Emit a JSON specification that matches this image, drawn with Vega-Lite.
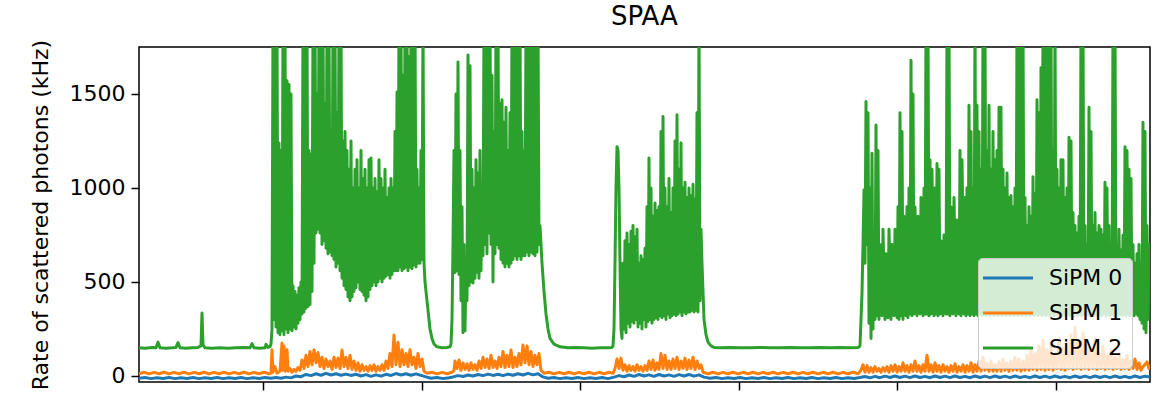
{
"$schema": "https://vega.github.io/schema/vega-lite/v6.json",
"width": 1011, "height": 335,
"autosize": {"type": "none"},
"padding": {"left": 139, "top": 47, "right": 15, "bottom": 20},
"title": {"text": "SPAA", "fontSize": 26, "fontWeight": "normal", "font": "DejaVu Sans", "color": "black", "offset": 9, "anchor": "middle"},
"config": {
  "font": "DejaVu Sans",
  "view": {"stroke": "black", "strokeWidth": 1.5},
  "axis": {"grid": false, "domain": false, "tickColor": "black", "tickWidth": 1.5, "tickSize": 8, "labelColor": "black", "labelFontSize": 22, "titleColor": "black", "titleFontSize": 22, "titleFontWeight": "normal"}
},
"datasets": {
"b": [{"x":139,"y":-12},{"x":145,"y":-8},{"x":151,"y":-14},{"x":157,"y":-9},{"x":163,"y":-13},{"x":169,"y":-8},{"x":175,"y":-14},{"x":181,"y":-9},{"x":187,"y":-13},{"x":193,"y":-8},{"x":199,"y":-14},{"x":205,"y":-9},{"x":211,"y":-13},{"x":217,"y":-8},{"x":223,"y":-14},{"x":229,"y":-9},{"x":235,"y":-13},{"x":241,"y":-8},{"x":247,"y":-14},{"x":253,"y":-9},{"x":259,"y":-13},{"x":265,"y":-8},{"x":271,"y":-12},{"x":276,"y":-8},{"x":281,"y":-12},{"x":286,"y":-6},{"x":291,"y":-10},{"x":296,"y":0},{"x":301,"y":-4},{"x":306,"y":8},{"x":311,"y":2},{"x":316,"y":12},{"x":321,"y":4},{"x":326,"y":14},{"x":331,"y":5},{"x":336,"y":12},{"x":341,"y":4},{"x":346,"y":10},{"x":351,"y":3},{"x":356,"y":9},{"x":361,"y":0},{"x":366,"y":7},{"x":371,"y":-2},{"x":376,"y":6},{"x":381,"y":-1},{"x":386,"y":9},{"x":391,"y":3},{"x":396,"y":13},{"x":401,"y":5},{"x":406,"y":12},{"x":411,"y":4},{"x":416,"y":11},{"x":421,"y":3},{"x":426,"y":-5},{"x":431,"y":-12},{"x":437,"y":-8},{"x":443,"y":-14},{"x":449,"y":-9},{"x":453,"y":-5},{"x":458,"y":2},{"x":463,"y":-3},{"x":468,"y":5},{"x":473,"y":0},{"x":478,"y":8},{"x":483,"y":2},{"x":488,"y":10},{"x":493,"y":3},{"x":498,"y":9},{"x":503,"y":2},{"x":508,"y":10},{"x":513,"y":4},{"x":518,"y":12},{"x":523,"y":5},{"x":528,"y":14},{"x":533,"y":6},{"x":538,"y":12},{"x":543,"y":-5},{"x":548,"y":-12},{"x":554,"y":-8},{"x":560,"y":-14},{"x":566,"y":-9},{"x":572,"y":-13},{"x":578,"y":-8},{"x":584,"y":-14},{"x":590,"y":-9},{"x":596,"y":-13},{"x":602,"y":-8},{"x":608,"y":-14},{"x":614,"y":-6},{"x":619,"y":2},{"x":624,"y":-4},{"x":629,"y":5},{"x":634,"y":-2},{"x":639,"y":8},{"x":644,"y":0},{"x":649,"y":6},{"x":654,"y":-2},{"x":659,"y":8},{"x":664,"y":0},{"x":669,"y":6},{"x":674,"y":-2},{"x":679,"y":7},{"x":684,"y":0},{"x":689,"y":8},{"x":694,"y":-1},{"x":699,"y":6},{"x":704,"y":-6},{"x":710,"y":-12},{"x":716,"y":-8},{"x":722,"y":-14},{"x":728,"y":-9},{"x":734,"y":-13},{"x":740,"y":-8},{"x":746,"y":-14},{"x":752,"y":-9},{"x":758,"y":-13},{"x":764,"y":-8},{"x":770,"y":-14},{"x":776,"y":-9},{"x":782,"y":-13},{"x":788,"y":-8},{"x":794,"y":-14},{"x":800,"y":-9},{"x":806,"y":-13},{"x":812,"y":-8},{"x":818,"y":-14},{"x":824,"y":-9},{"x":830,"y":-13},{"x":836,"y":-8},{"x":842,"y":-14},{"x":848,"y":-9},{"x":854,"y":-13},{"x":860,"y":-8},{"x":865,"y":-3},{"x":870,"y":-10},{"x":875,"y":-2},{"x":880,"y":-9},{"x":885,"y":-1},{"x":890,"y":-8},{"x":895,"y":0},{"x":900,"y":-8},{"x":905,"y":-1},{"x":910,"y":-9},{"x":915,"y":0},{"x":920,"y":-8},{"x":925,"y":-2},{"x":930,"y":-9},{"x":935,"y":0},{"x":940,"y":-8},{"x":945,"y":-1},{"x":950,"y":-9},{"x":955,"y":0},{"x":960,"y":-8},{"x":965,"y":-2},{"x":970,"y":-9},{"x":975,"y":0},{"x":980,"y":-8},{"x":985,"y":-1},{"x":990,"y":-9},{"x":995,"y":0},{"x":1000,"y":-8},{"x":1005,"y":-1},{"x":1010,"y":-9},{"x":1015,"y":0},{"x":1020,"y":-8},{"x":1025,"y":-2},{"x":1030,"y":-9},{"x":1035,"y":0},{"x":1040,"y":-8},{"x":1045,"y":-1},{"x":1050,"y":-9},{"x":1055,"y":0},{"x":1060,"y":-8},{"x":1065,"y":-2},{"x":1070,"y":-9},{"x":1075,"y":0},{"x":1080,"y":-8},{"x":1085,"y":-1},{"x":1090,"y":-9},{"x":1095,"y":0},{"x":1100,"y":-8},{"x":1105,"y":-1},{"x":1110,"y":-9},{"x":1115,"y":0},{"x":1120,"y":-8},{"x":1125,"y":-2},{"x":1130,"y":-9},{"x":1135,"y":0},{"x":1140,"y":-8},{"x":1145,"y":-1},{"x":1150,"y":-6}],
"o": [{"x":139,"y":12},{"x":144,"y":20},{"x":149,"y":11},{"x":154,"y":19},{"x":159,"y":12},{"x":164,"y":20},{"x":169,"y":11},{"x":174,"y":19},{"x":179,"y":12},{"x":184,"y":20},{"x":189,"y":11},{"x":194,"y":19},{"x":199,"y":12},{"x":204,"y":20},{"x":209,"y":11},{"x":214,"y":19},{"x":219,"y":12},{"x":224,"y":20},{"x":229,"y":11},{"x":234,"y":19},{"x":239,"y":12},{"x":244,"y":20},{"x":249,"y":11},{"x":254,"y":19},{"x":259,"y":12},{"x":264,"y":20},{"x":269,"y":12},{"x":271,"y":15},{"x":272,"y":140},{"x":273,"y":20},{"x":275,"y":50},{"x":277,"y":15},{"x":280,"y":25},{"x":282,"y":175},{"x":283,"y":30},{"x":284,"y":160},{"x":285,"y":25},{"x":287,"y":140},{"x":288,"y":25},{"x":290,"y":40},{"x":292,"y":20},{"x":294,"y":35},{"x":296,"y":25},{"x":298,"y":45},{"x":300,"y":30},{"x":302,"y":85},{"x":304,"y":40},{"x":306,"y":110},{"x":308,"y":50},{"x":310,"y":130},{"x":312,"y":60},{"x":314,"y":140},{"x":316,"y":70},{"x":318,"y":125},{"x":320,"y":50},{"x":322,"y":100},{"x":324,"y":40},{"x":326,"y":90},{"x":328,"y":50},{"x":330,"y":80},{"x":332,"y":35},{"x":334,"y":100},{"x":336,"y":45},{"x":338,"y":95},{"x":340,"y":40},{"x":342,"y":138},{"x":344,"y":50},{"x":346,"y":100},{"x":348,"y":40},{"x":350,"y":110},{"x":352,"y":35},{"x":354,"y":80},{"x":356,"y":30},{"x":358,"y":70},{"x":360,"y":25},{"x":362,"y":60},{"x":364,"y":30},{"x":366,"y":50},{"x":368,"y":25},{"x":370,"y":55},{"x":372,"y":30},{"x":374,"y":60},{"x":376,"y":25},{"x":378,"y":50},{"x":380,"y":30},{"x":382,"y":60},{"x":384,"y":30},{"x":386,"y":80},{"x":388,"y":40},{"x":390,"y":120},{"x":392,"y":50},{"x":394,"y":218},{"x":396,"y":60},{"x":398,"y":180},{"x":400,"y":50},{"x":402,"y":140},{"x":404,"y":60},{"x":406,"y":120},{"x":408,"y":50},{"x":410,"y":140},{"x":412,"y":60},{"x":414,"y":100},{"x":416,"y":40},{"x":418,"y":120},{"x":420,"y":50},{"x":422,"y":90},{"x":424,"y":25},{"x":427,"y":15},{"x":432,"y":20},{"x":437,"y":11},{"x":442,"y":19},{"x":447,"y":12},{"x":452,"y":20},{"x":454,"y":30},{"x":455,"y":80},{"x":457,"y":40},{"x":459,"y":85},{"x":461,"y":30},{"x":463,"y":70},{"x":465,"y":35},{"x":467,"y":65},{"x":469,"y":30},{"x":471,"y":70},{"x":473,"y":35},{"x":475,"y":60},{"x":477,"y":30},{"x":479,"y":80},{"x":481,"y":40},{"x":483,"y":100},{"x":485,"y":45},{"x":487,"y":90},{"x":489,"y":40},{"x":491,"y":110},{"x":493,"y":45},{"x":495,"y":80},{"x":497,"y":40},{"x":499,"y":100},{"x":501,"y":50},{"x":503,"y":130},{"x":505,"y":45},{"x":507,"y":110},{"x":509,"y":50},{"x":511,"y":138},{"x":513,"y":45},{"x":515,"y":100},{"x":517,"y":50},{"x":519,"y":120},{"x":521,"y":60},{"x":523,"y":165},{"x":525,"y":70},{"x":527,"y":160},{"x":529,"y":60},{"x":531,"y":130},{"x":533,"y":50},{"x":535,"y":110},{"x":537,"y":60},{"x":539,"y":120},{"x":541,"y":30},{"x":544,"y":15},{"x":549,"y":20},{"x":554,"y":11},{"x":559,"y":19},{"x":564,"y":12},{"x":569,"y":20},{"x":574,"y":11},{"x":579,"y":19},{"x":584,"y":12},{"x":589,"y":20},{"x":594,"y":11},{"x":599,"y":19},{"x":604,"y":12},{"x":609,"y":20},{"x":613,"y":14},{"x":615,"y":40},{"x":617,"y":90},{"x":619,"y":40},{"x":621,"y":95},{"x":623,"y":30},{"x":625,"y":60},{"x":627,"y":25},{"x":629,"y":55},{"x":631,"y":30},{"x":633,"y":50},{"x":635,"y":25},{"x":637,"y":60},{"x":639,"y":30},{"x":641,"y":50},{"x":643,"y":25},{"x":645,"y":55},{"x":647,"y":30},{"x":649,"y":80},{"x":651,"y":35},{"x":653,"y":85},{"x":655,"y":30},{"x":657,"y":70},{"x":659,"y":35},{"x":661,"y":120},{"x":663,"y":40},{"x":665,"y":110},{"x":667,"y":35},{"x":669,"y":80},{"x":671,"y":35},{"x":673,"y":90},{"x":675,"y":40},{"x":677,"y":100},{"x":679,"y":35},{"x":681,"y":80},{"x":683,"y":40},{"x":685,"y":95},{"x":687,"y":35},{"x":689,"y":85},{"x":691,"y":40},{"x":693,"y":100},{"x":695,"y":35},{"x":697,"y":80},{"x":699,"y":40},{"x":701,"y":60},{"x":703,"y":20},{"x":708,"y":12},{"x":713,"y":20},{"x":718,"y":11},{"x":723,"y":19},{"x":728,"y":12},{"x":733,"y":20},{"x":738,"y":11},{"x":743,"y":19},{"x":748,"y":12},{"x":753,"y":20},{"x":758,"y":11},{"x":763,"y":19},{"x":768,"y":12},{"x":773,"y":20},{"x":778,"y":11},{"x":783,"y":19},{"x":788,"y":12},{"x":793,"y":20},{"x":798,"y":11},{"x":803,"y":19},{"x":808,"y":12},{"x":813,"y":20},{"x":818,"y":11},{"x":823,"y":19},{"x":828,"y":12},{"x":833,"y":20},{"x":838,"y":11},{"x":843,"y":19},{"x":848,"y":12},{"x":853,"y":20},{"x":858,"y":12},{"x":861,"y":30},{"x":863,"y":60},{"x":865,"y":20},{"x":867,"y":55},{"x":869,"y":20},{"x":871,"y":45},{"x":873,"y":20},{"x":875,"y":50},{"x":877,"y":25},{"x":879,"y":40},{"x":881,"y":20},{"x":883,"y":45},{"x":885,"y":25},{"x":887,"y":50},{"x":889,"y":20},{"x":891,"y":55},{"x":893,"y":25},{"x":895,"y":60},{"x":897,"y":20},{"x":899,"y":50},{"x":901,"y":25},{"x":903,"y":70},{"x":905,"y":25},{"x":907,"y":55},{"x":909,"y":20},{"x":911,"y":60},{"x":913,"y":25},{"x":915,"y":80},{"x":917,"y":25},{"x":919,"y":55},{"x":921,"y":20},{"x":923,"y":60},{"x":925,"y":25},{"x":927,"y":110},{"x":929,"y":25},{"x":931,"y":60},{"x":933,"y":20},{"x":935,"y":70},{"x":937,"y":25},{"x":939,"y":55},{"x":941,"y":20},{"x":943,"y":60},{"x":945,"y":25},{"x":947,"y":50},{"x":949,"y":20},{"x":951,"y":55},{"x":953,"y":25},{"x":955,"y":65},{"x":957,"y":20},{"x":959,"y":50},{"x":961,"y":25},{"x":963,"y":60},{"x":965,"y":20},{"x":967,"y":55},{"x":969,"y":25},{"x":971,"y":70},{"x":973,"y":20},{"x":975,"y":60},{"x":977,"y":25},{"x":979,"y":80},{"x":981,"y":25},{"x":983,"y":100},{"x":985,"y":30},{"x":987,"y":70},{"x":989,"y":25},{"x":991,"y":80},{"x":993,"y":25},{"x":995,"y":60},{"x":997,"y":25},{"x":999,"y":75},{"x":1001,"y":25},{"x":1003,"y":90},{"x":1005,"y":30},{"x":1007,"y":70},{"x":1009,"y":25},{"x":1011,"y":80},{"x":1013,"y":30},{"x":1015,"y":100},{"x":1017,"y":30},{"x":1019,"y":90},{"x":1021,"y":25},{"x":1023,"y":80},{"x":1025,"y":30},{"x":1027,"y":110},{"x":1029,"y":30},{"x":1031,"y":140},{"x":1033,"y":35},{"x":1035,"y":120},{"x":1037,"y":30},{"x":1039,"y":160},{"x":1041,"y":35},{"x":1043,"y":190},{"x":1045,"y":30},{"x":1047,"y":140},{"x":1049,"y":35},{"x":1051,"y":180},{"x":1053,"y":30},{"x":1055,"y":120},{"x":1057,"y":40},{"x":1059,"y":200},{"x":1061,"y":35},{"x":1063,"y":150},{"x":1065,"y":30},{"x":1067,"y":180},{"x":1069,"y":40},{"x":1071,"y":220},{"x":1073,"y":35},{"x":1075,"y":260},{"x":1077,"y":40},{"x":1079,"y":180},{"x":1081,"y":35},{"x":1083,"y":230},{"x":1085,"y":40},{"x":1087,"y":170},{"x":1089,"y":35},{"x":1091,"y":150},{"x":1093,"y":40},{"x":1095,"y":200},{"x":1097,"y":35},{"x":1099,"y":120},{"x":1101,"y":40},{"x":1103,"y":160},{"x":1105,"y":35},{"x":1107,"y":110},{"x":1109,"y":40},{"x":1111,"y":140},{"x":1113,"y":35},{"x":1115,"y":100},{"x":1117,"y":40},{"x":1119,"y":120},{"x":1121,"y":35},{"x":1123,"y":90},{"x":1125,"y":40},{"x":1127,"y":110},{"x":1129,"y":35},{"x":1131,"y":80},{"x":1133,"y":40},{"x":1135,"y":90},{"x":1137,"y":35},{"x":1139,"y":70},{"x":1141,"y":30},{"x":1143,"y":50},{"x":1145,"y":60},{"x":1147,"y":75},{"x":1149,"y":40},{"x":1150,"y":60}],
"g": [{"x":139,"y":150},{"x":145,"y":148},{"x":152,"y":152},{"x":156,"y":150},{"x":158,"y":180},{"x":160,"y":150},{"x":166,"y":148},{"x":172,"y":150},{"x":176,"y":152},{"x":178,"y":178},{"x":180,"y":150},{"x":186,"y":148},{"x":192,"y":150},{"x":198,"y":152},{"x":201,"y":160},{"x":202,"y":335},{"x":203,"y":165},{"x":205,"y":150},{"x":212,"y":148},{"x":220,"y":150},{"x":228,"y":148},{"x":236,"y":150},{"x":244,"y":152},{"x":250,"y":150},{"x":252,"y":172},{"x":254,"y":150},{"x":260,"y":148},{"x":265,"y":150},{"x":266,"y":168},{"x":268,"y":152},{"x":270,"y":155},{"x":271,"y":170},
{"x":272,"y":250},{"x":273,"y":1900},{"x":274,"y":300},{"x":275,"y":1900},{"x":276,"y":260},{"x":277,"y":1900},{"x":278,"y":230},{"x":279,"y":1240},{"x":280,"y":220},{"x":281,"y":1200},{"x":282,"y":240},{"x":283,"y":1900},{"x":284,"y":220},{"x":285,"y":1900},{"x":286,"y":250},{"x":287,"y":1570},{"x":288,"y":230},{"x":289,"y":1550},{"x":290,"y":250},{"x":291,"y":1500},{"x":292,"y":240},{"x":293,"y":480},{"x":294,"y":260},{"x":295,"y":450},{"x":296,"y":250},{"x":297,"y":430},{"x":298,"y":280},{"x":299,"y":470},{"x":300,"y":300},{"x":301,"y":500},{"x":302,"y":330},{"x":303,"y":1900},{"x":304,"y":340},{"x":305,"y":1900},{"x":306,"y":360},{"x":307,"y":1900},{"x":308,"y":370},{"x":309,"y":1200},{"x":310,"y":380},{"x":311,"y":1180},{"x":312,"y":450},{"x":313,"y":1900},{"x":314,"y":600},{"x":315,"y":1900},{"x":316,"y":760},{"x":317,"y":1500},{"x":318,"y":780},{"x":319,"y":1900},{"x":320,"y":760},{"x":321,"y":1900},{"x":322,"y":700},{"x":323,"y":1900},{"x":324,"y":720},{"x":325,"y":1450},{"x":326,"y":680},{"x":327,"y":1900},{"x":328,"y":650},{"x":329,"y":1900},{"x":330,"y":660},{"x":331,"y":1300},{"x":332,"y":640},{"x":333,"y":1900},{"x":334,"y":620},{"x":335,"y":1900},{"x":336,"y":580},{"x":337,"y":1400},{"x":338,"y":600},{"x":339,"y":1900},{"x":340,"y":560},{"x":341,"y":1900},{"x":342,"y":520},{"x":343,"y":1250},{"x":344,"y":480},{"x":345,"y":1300},{"x":346,"y":460},{"x":347,"y":1200},{"x":348,"y":420},{"x":349,"y":1100},{"x":350,"y":400},{"x":351,"y":1250},{"x":352,"y":420},{"x":353,"y":1000},{"x":354,"y":450},{"x":355,"y":1100},{"x":356,"y":470},{"x":357,"y":1150},{"x":358,"y":500},{"x":359,"y":1000},{"x":360,"y":460},{"x":361,"y":1200},{"x":362,"y":450},{"x":363,"y":1050},{"x":364,"y":430},{"x":365,"y":1100},{"x":366,"y":400},{"x":367,"y":1000},{"x":368,"y":420},{"x":369,"y":1150},{"x":370,"y":460},{"x":371,"y":1160},{"x":372,"y":480},{"x":373,"y":1000},{"x":374,"y":500},{"x":375,"y":1050},{"x":376,"y":480},{"x":377,"y":980},{"x":378,"y":500},{"x":379,"y":1150},{"x":380,"y":520},{"x":381,"y":1050},{"x":382,"y":500},{"x":383,"y":1000},{"x":384,"y":520},{"x":385,"y":1100},{"x":386,"y":530},{"x":387,"y":950},{"x":388,"y":540},{"x":389,"y":1000},{"x":390,"y":520},{"x":391,"y":1050},{"x":392,"y":540},{"x":393,"y":1000},{"x":394,"y":560},{"x":395,"y":1300},{"x":396,"y":560},{"x":397,"y":1510},{"x":398,"y":560},{"x":399,"y":1900},{"x":400,"y":580},{"x":401,"y":1900},{"x":402,"y":560},{"x":403,"y":1600},{"x":404,"y":570},{"x":405,"y":1900},{"x":406,"y":580},{"x":407,"y":1900},{"x":408,"y":560},{"x":409,"y":1700},{"x":410,"y":580},{"x":411,"y":1900},{"x":412,"y":570},{"x":413,"y":1900},{"x":414,"y":590},{"x":415,"y":1900},{"x":416,"y":580},{"x":417,"y":1100},{"x":418,"y":600},{"x":419,"y":1000},{"x":420,"y":600},{"x":421,"y":1200},{"x":422,"y":620},{"x":423,"y":1900},{"x":424,"y":600},{"x":425,"y":500},{"x":426,"y":450},{"x":427,"y":400},{"x":428,"y":350},{"x":429,"y":300},{"x":430,"y":250},{"x":432,"y":200},{"x":434,"y":170},{"x":437,"y":155},{"x":442,"y":150},{"x":447,"y":152},
{"x":450,"y":155},{"x":451,"y":170},{"x":452,"y":300},{"x":453,"y":700},{"x":454,"y":1200},{"x":455,"y":550},{"x":456,"y":1500},{"x":457,"y":560},{"x":458,"y":1670},{"x":459,"y":540},{"x":460,"y":1200},{"x":461,"y":400},{"x":462,"y":900},{"x":463,"y":230},{"x":464,"y":700},{"x":465,"y":240},{"x":466,"y":600},{"x":467,"y":400},{"x":468,"y":1707},{"x":469,"y":480},{"x":470,"y":1650},{"x":471,"y":500},{"x":472,"y":1100},{"x":473,"y":495},{"x":474,"y":1000},{"x":475,"y":520},{"x":476,"y":1150},{"x":477,"y":550},{"x":478,"y":1080},{"x":479,"y":520},{"x":480,"y":1200},{"x":481,"y":560},{"x":482,"y":1000},{"x":483,"y":640},{"x":484,"y":1900},{"x":485,"y":700},{"x":486,"y":1900},{"x":487,"y":650},{"x":488,"y":1900},{"x":489,"y":760},{"x":490,"y":1900},{"x":491,"y":700},{"x":492,"y":1600},{"x":493,"y":500},{"x":494,"y":1300},{"x":495,"y":650},{"x":496,"y":1900},{"x":497,"y":700},{"x":498,"y":1900},{"x":499,"y":680},{"x":500,"y":1450},{"x":501,"y":620},{"x":502,"y":1470},{"x":503,"y":600},{"x":504,"y":1350},{"x":505,"y":580},{"x":506,"y":1430},{"x":507,"y":600},{"x":508,"y":1200},{"x":509,"y":580},{"x":510,"y":1400},{"x":511,"y":600},{"x":512,"y":1900},{"x":513,"y":620},{"x":514,"y":1900},{"x":515,"y":640},{"x":516,"y":1900},{"x":517,"y":620},{"x":518,"y":1900},{"x":519,"y":640},{"x":520,"y":1900},{"x":521,"y":620},{"x":522,"y":1300},{"x":523,"y":640},{"x":524,"y":1200},{"x":525,"y":640},{"x":526,"y":1900},{"x":527,"y":660},{"x":528,"y":1900},{"x":529,"y":640},{"x":530,"y":1900},{"x":531,"y":660},{"x":532,"y":1900},{"x":533,"y":650},{"x":534,"y":1900},{"x":535,"y":640},{"x":536,"y":1900},{"x":537,"y":660},{"x":538,"y":1900},{"x":539,"y":700},{"x":540,"y":800},{"x":541,"y":700},{"x":542,"y":600},{"x":544,"y":450},{"x":546,"y":330},{"x":548,"y":250},{"x":550,"y":200},{"x":554,"y":170},{"x":560,"y":155},{"x":568,"y":150},{"x":576,"y":152},{"x":584,"y":150},{"x":592,"y":148},{"x":600,"y":150},{"x":608,"y":150},{"x":612,"y":152},
{"x":613,"y":160},{"x":614,"y":250},{"x":615,"y":600},{"x":616,"y":1000},{"x":617,"y":1220},{"x":618,"y":1200},{"x":619,"y":1000},{"x":620,"y":600},{"x":621,"y":250},{"x":622,"y":200},{"x":623,"y":600},{"x":624,"y":250},{"x":625,"y":720},{"x":626,"y":230},{"x":627,"y":760},{"x":628,"y":280},{"x":629,"y":700},{"x":630,"y":260},{"x":631,"y":770},{"x":632,"y":290},{"x":633,"y":800},{"x":634,"y":280},{"x":635,"y":740},{"x":636,"y":300},{"x":637,"y":780},{"x":638,"y":260},{"x":639,"y":600},{"x":640,"y":280},{"x":641,"y":640},{"x":642,"y":250},{"x":643,"y":620},{"x":644,"y":300},{"x":645,"y":680},{"x":646,"y":260},{"x":647,"y":900},{"x":648,"y":290},{"x":649,"y":1160},{"x":650,"y":300},{"x":651,"y":1000},{"x":652,"y":280},{"x":653,"y":850},{"x":654,"y":300},{"x":655,"y":920},{"x":656,"y":310},{"x":657,"y":880},{"x":658,"y":300},{"x":659,"y":900},{"x":660,"y":320},{"x":661,"y":1300},{"x":662,"y":310},{"x":663,"y":1380},{"x":664,"y":320},{"x":665,"y":1000},{"x":666,"y":300},{"x":667,"y":900},{"x":668,"y":330},{"x":669,"y":1050},{"x":670,"y":310},{"x":671,"y":870},{"x":672,"y":320},{"x":673,"y":1000},{"x":674,"y":330},{"x":675,"y":1250},{"x":676,"y":320},{"x":677,"y":1390},{"x":678,"y":330},{"x":679,"y":1100},{"x":680,"y":340},{"x":681,"y":1240},{"x":682,"y":320},{"x":683,"y":1000},{"x":684,"y":340},{"x":685,"y":1030},{"x":686,"y":330},{"x":687,"y":950},{"x":688,"y":340},{"x":689,"y":1000},{"x":690,"y":340},{"x":691,"y":960},{"x":692,"y":350},{"x":693,"y":1020},{"x":694,"y":340},{"x":695,"y":940},{"x":696,"y":350},{"x":697,"y":1400},{"x":698,"y":340},{"x":699,"y":1900},{"x":700,"y":400},{"x":701,"y":780},{"x":702,"y":600},{"x":703,"y":450},{"x":704,"y":300},{"x":706,"y":220},{"x":708,"y":180},{"x":711,"y":160},{"x":714,"y":152},{"x":720,"y":150},{"x":730,"y":152},{"x":740,"y":150},{"x":750,"y":150},{"x":760,"y":152},{"x":770,"y":150},{"x":780,"y":150},{"x":790,"y":152},{"x":800,"y":150},{"x":810,"y":150},{"x":820,"y":151},{"x":830,"y":150},{"x":840,"y":152},{"x":850,"y":150},{"x":858,"y":151},
{"x":860,"y":160},{"x":861,"y":300},{"x":862,"y":440},{"x":863,"y":700},{"x":864,"y":990},{"x":865,"y":600},{"x":866,"y":1460},{"x":867,"y":700},{"x":868,"y":1400},{"x":869,"y":280},{"x":870,"y":1000},{"x":871,"y":200},{"x":872,"y":1185},{"x":873,"y":250},{"x":874,"y":700},{"x":875,"y":300},{"x":876,"y":1335},{"x":877,"y":320},{"x":878,"y":1200},{"x":879,"y":300},{"x":880,"y":700},{"x":882,"y":320},{"x":883,"y":780},{"x":885,"y":300},{"x":886,"y":650},{"x":888,"y":310},{"x":889,"y":780},{"x":891,"y":300},{"x":892,"y":700},{"x":894,"y":320},{"x":895,"y":780},{"x":897,"y":310},{"x":898,"y":900},{"x":899,"y":300},{"x":900,"y":1400},{"x":901,"y":320},{"x":902,"y":1300},{"x":903,"y":300},{"x":904,"y":850},{"x":906,"y":320},{"x":907,"y":900},{"x":908,"y":310},{"x":909,"y":1000},{"x":910,"y":330},{"x":911,"y":1680},{"x":912,"y":320},{"x":913,"y":1500},{"x":914,"y":330},{"x":915,"y":900},{"x":917,"y":320},{"x":918,"y":850},{"x":920,"y":330},{"x":921,"y":950},{"x":923,"y":320},{"x":924,"y":1000},{"x":925,"y":330},{"x":926,"y":1900},{"x":927,"y":330},{"x":928,"y":1900},{"x":929,"y":320},{"x":930,"y":1150},{"x":931,"y":330},{"x":932,"y":1100},{"x":934,"y":320},{"x":935,"y":1000},{"x":936,"y":330},{"x":937,"y":1130},{"x":938,"y":320},{"x":939,"y":1100},{"x":940,"y":330},{"x":941,"y":720},{"x":943,"y":320},{"x":944,"y":750},{"x":946,"y":330},{"x":947,"y":1900},{"x":948,"y":330},{"x":949,"y":1900},{"x":950,"y":320},{"x":951,"y":900},{"x":953,"y":330},{"x":954,"y":950},{"x":956,"y":320},{"x":957,"y":830},{"x":959,"y":330},{"x":960,"y":1200},{"x":961,"y":320},{"x":962,"y":1150},{"x":964,"y":330},{"x":965,"y":950},{"x":966,"y":320},{"x":967,"y":1000},{"x":968,"y":330},{"x":969,"y":1440},{"x":970,"y":320},{"x":971,"y":1300},{"x":972,"y":330},{"x":973,"y":1000},{"x":974,"y":320},{"x":975,"y":1900},{"x":976,"y":330},{"x":977,"y":1440},{"x":978,"y":320},{"x":979,"y":1300},{"x":980,"y":330},{"x":981,"y":1100},{"x":982,"y":320},{"x":983,"y":1900},{"x":984,"y":330},{"x":985,"y":1900},{"x":986,"y":320},{"x":987,"y":1200},{"x":988,"y":330},{"x":989,"y":1440},{"x":990,"y":320},{"x":991,"y":1100},{"x":992,"y":330},{"x":993,"y":1300},{"x":994,"y":320},{"x":995,"y":1150},{"x":996,"y":330},{"x":997,"y":1200},{"x":998,"y":320},{"x":999,"y":1430},{"x":1000,"y":330},{"x":1001,"y":1430},{"x":1002,"y":320},{"x":1003,"y":1100},{"x":1004,"y":330},{"x":1005,"y":1000},{"x":1006,"y":320},{"x":1007,"y":1080},{"x":1008,"y":330},{"x":1009,"y":950},{"x":1010,"y":320},{"x":1011,"y":960},{"x":1012,"y":330},{"x":1013,"y":900},{"x":1014,"y":320},{"x":1015,"y":1000},{"x":1016,"y":330},{"x":1017,"y":1900},{"x":1018,"y":320},{"x":1019,"y":1900},{"x":1020,"y":330},{"x":1021,"y":1900},{"x":1022,"y":320},{"x":1023,"y":1900},{"x":1024,"y":330},{"x":1025,"y":950},{"x":1026,"y":320},{"x":1027,"y":800},{"x":1028,"y":330},{"x":1029,"y":900},{"x":1030,"y":320},{"x":1031,"y":850},{"x":1032,"y":330},{"x":1033,"y":1060},{"x":1034,"y":320},{"x":1035,"y":970},{"x":1036,"y":330},{"x":1037,"y":1470},{"x":1038,"y":320},{"x":1039,"y":1400},{"x":1040,"y":330},{"x":1041,"y":1640},{"x":1042,"y":320},{"x":1043,"y":1900},{"x":1044,"y":330},{"x":1045,"y":1900},{"x":1046,"y":320},{"x":1047,"y":1900},{"x":1048,"y":330},{"x":1049,"y":1900},{"x":1050,"y":320},{"x":1051,"y":1900},{"x":1052,"y":330},{"x":1053,"y":1200},{"x":1054,"y":320},{"x":1055,"y":1900},{"x":1056,"y":330},{"x":1057,"y":1100},{"x":1058,"y":320},{"x":1059,"y":1000},{"x":1060,"y":330},{"x":1061,"y":1150},{"x":1062,"y":320},{"x":1063,"y":1150},{"x":1064,"y":330},{"x":1065,"y":950},{"x":1066,"y":320},{"x":1067,"y":1000},{"x":1068,"y":330},{"x":1069,"y":1270},{"x":1070,"y":320},{"x":1071,"y":1250},{"x":1072,"y":330},{"x":1073,"y":870},{"x":1074,"y":320},{"x":1075,"y":800},{"x":1076,"y":330},{"x":1077,"y":760},{"x":1078,"y":320},{"x":1079,"y":850},{"x":1080,"y":330},{"x":1081,"y":1900},{"x":1082,"y":320},{"x":1083,"y":1900},{"x":1084,"y":330},{"x":1085,"y":800},{"x":1086,"y":320},{"x":1087,"y":700},{"x":1088,"y":330},{"x":1089,"y":1430},{"x":1090,"y":320},{"x":1091,"y":1300},{"x":1092,"y":330},{"x":1093,"y":800},{"x":1094,"y":320},{"x":1095,"y":870},{"x":1096,"y":330},{"x":1097,"y":760},{"x":1098,"y":320},{"x":1099,"y":800},{"x":1100,"y":330},{"x":1101,"y":780},{"x":1102,"y":320},{"x":1103,"y":750},{"x":1104,"y":330},{"x":1105,"y":1030},{"x":1106,"y":320},{"x":1107,"y":1000},{"x":1108,"y":330},{"x":1109,"y":800},{"x":1110,"y":320},{"x":1111,"y":700},{"x":1112,"y":330},{"x":1113,"y":1900},{"x":1114,"y":320},{"x":1115,"y":1900},{"x":1116,"y":330},{"x":1117,"y":700},{"x":1118,"y":320},{"x":1119,"y":780},{"x":1120,"y":330},{"x":1121,"y":670},{"x":1122,"y":320},{"x":1123,"y":750},{"x":1124,"y":330},{"x":1125,"y":1220},{"x":1126,"y":320},{"x":1127,"y":1200},{"x":1128,"y":330},{"x":1129,"y":1100},{"x":1130,"y":320},{"x":1131,"y":1050},{"x":1132,"y":330},{"x":1133,"y":700},{"x":1134,"y":320},{"x":1135,"y":600},{"x":1136,"y":330},{"x":1137,"y":650},{"x":1138,"y":320},{"x":1139,"y":700},{"x":1140,"y":300},{"x":1141,"y":600},{"x":1142,"y":280},{"x":1143,"y":1350},{"x":1144,"y":250},{"x":1145,"y":1300},{"x":1146,"y":230},{"x":1147,"y":800},{"x":1148,"y":300},{"x":1149,"y":700},{"x":1150,"y":500}]
},
"encoding": {
  "x": {"field": "x", "type": "quantitative", "scale": {"domain": [139, 1150], "nice": false, "zero": false}, "axis": {"values": [263, 422, 580, 739, 897, 1056], "labels": false, "title": null}},
  "y": {"field": "y", "type": "quantitative", "scale": {"domain": [-32, 1750], "nice": false, "zero": false}, "axis": {"values": [0, 500, 1000, 1500], "format": "d", "labelPadding": 6, "title": "Rate of scattered photons (kHz)", "titleX": -99, "titleY": 167.5, "titleBaseline": "middle", "titleAlign": "center", "titleAngle": 270}}
},
"layer": [
  {"data": {"name": "b"}, "mark": {"type": "line", "clip": true, "strokeWidth": 3, "strokeJoin": "round"},
   "encoding": {"color": {"datum": "SiPM 0", "type": "nominal",
     "scale": {"domain": ["SiPM 0", "SiPM 1", "SiPM 2"], "range": ["#1f77b4", "#ff7f0e", "#2ca02c"]},
     "legend": {"title": null, "orient": "none", "legendX": 839, "legendY": 211, "symbolType": "M-3,0H7", "symbolSize": 100, "symbolStrokeWidth": 3, "labelFontSize": 22, "labelColor": "black", "labelOffset": 40, "rowPadding": 13, "padding": 9, "fillColor": "rgba(255,255,255,0.8)", "strokeColor": "#cccccc", "cornerRadius": 4}}}},
  {"data": {"name": "o"}, "mark": {"type": "line", "clip": true, "strokeWidth": 3, "strokeJoin": "round"},
   "encoding": {"color": {"datum": "SiPM 1", "type": "nominal"}}},
  {"data": {"name": "g"}, "mark": {"type": "line", "clip": true, "strokeWidth": 3, "strokeJoin": "round"},
   "encoding": {"color": {"datum": "SiPM 2", "type": "nominal"}}}
]
}
